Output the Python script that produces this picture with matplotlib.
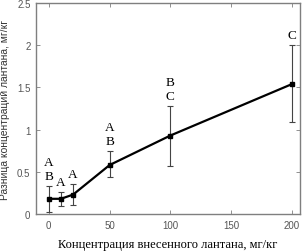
import numpy as np
import matplotlib
matplotlib.use('Agg')
import matplotlib.pyplot as plt

# Data
conc = [0, 10, 20, 50, 100, 200]
diff = [0.18, 0.18, 0.23, 0.58, 0.93, 1.54]
err_low = [0.02, 0.10, 0.11, 0.44, 0.57, 1.09]
err_high = [0.33, 0.26, 0.35, 0.75, 1.28, 2.00]
groups = ['A\nB', 'A', 'A', 'A\nB', 'B\nC', 'C']

fig = plt.figure(figsize=(3.05, 2.53), dpi=100)
ax = fig.add_axes([36 / 305, 1 - 215 / 253, (300 - 36) / 305, (215 - 4) / 253])

yerr = [np.array(diff) - np.array(err_low), np.array(err_high) - np.array(diff)]
ax.errorbar(conc, diff, yerr=yerr, fmt='none', ecolor='#444444', elinewidth=0.8,
            capsize=2.5, capthick=0.8, zorder=2)
ax.plot(conc, diff, color='black', linewidth=1.6, marker='s', markersize=3,
        markerfacecolor='black', zorder=3)

# Letter labels above the error bars
for x, top, g in zip(conc, err_high, groups):
    ax.annotate(g, (x, top), xytext=(0, 3), textcoords='offset points',
                ha='center', va='bottom', fontsize=9.5, family='Liberation Serif',
                linespacing=1.2)

ax.set_xlim(-10.5, 206.5)
ax.set_ylim(0, 2.5)
ax.set_xticks([0, 50, 100, 150, 200])
ax.set_yticks([0, 0.5, 1, 1.5, 2, 2.5])
ax.set_yticklabels(['0', '0.5', '1', '1.5', '2', '2.5'])

for s in ax.spines.values():
    s.set_color('#7f7f7f')
    s.set_linewidth(1.0)
ax.tick_params(direction='in', length=3, width=0.6, color='#7f7f7f',
               labelcolor='#555555', labelsize=7, top=True, right=True, pad=4,
               labelfontfamily='Liberation Sans')

ax.set_xlabel('Концентрация внесенного лантана, мг/кг', fontsize=9,
              family='Liberation Serif', labelpad=6)
ax.set_ylabel('Разница концентраций лантана, мг/кг', fontsize=7.4,
              family='Liberation Sans', color='#333333', labelpad=5)

fig.savefig('out.png', dpi=100)
